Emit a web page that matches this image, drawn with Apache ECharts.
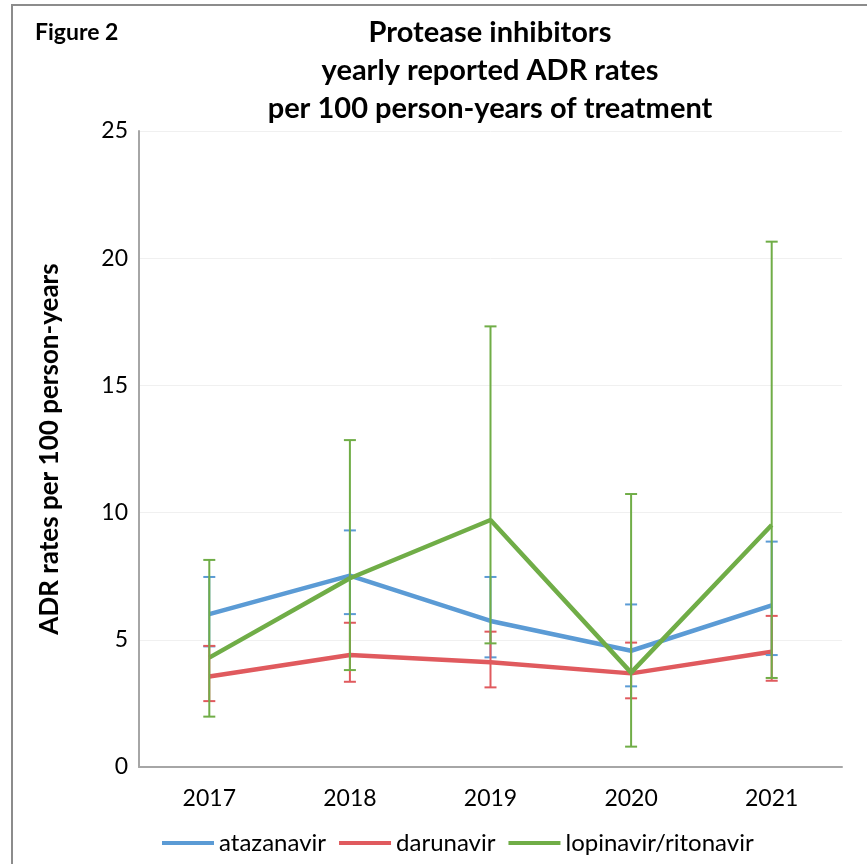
<!DOCTYPE html>
<html>
<head>
<meta charset="utf-8">
<script src="https://cdn.jsdelivr.net/npm/echarts@6/dist/echarts.min.js"></script>
<style>
  html, body { margin: 0; padding: 0; background: #fff; }
  #chart { width: 867px; height: 864px; }
</style>
</head>
<body>
<div id="chart"></div>
<script>
// data
const years = ['2017', '2018', '2019', '2020', '2021'];
const yTicks = [0, 5, 10, 15, 20, 25];

const atazanavir = [6.01, 7.52, 5.74, 4.57, 6.35];
const atazanavirLow = [4.74, 6.01, 4.31, 3.17, 4.40];
const atazanavirHigh = [7.47, 9.30, 7.47, 6.39, 8.86];

const darunavir = [3.56, 4.40, 4.12, 3.68, 4.53];
const darunavirLow = [2.59, 3.35, 3.13, 2.70, 3.39];
const darunavirHigh = [4.76, 5.67, 5.32, 4.89, 5.94];

const lopinavir = [4.30, 7.42, 9.71, 3.71, 9.51];
const lopinavirLow = [1.98, 3.81, 4.86, 0.80, 3.50];
const lopinavirHigh = [8.14, 12.85, 17.32, 10.73, 20.65];

const BLUE = '#5B9BD5';
const RED = '#E05A5E';
const GREEN = '#70AD47';
const FONT = 'Lato, "Open Sans", sans-serif';

const chart = echarts.init(document.getElementById('chart'));

// error bars with caps, drawn by a custom series
function errorBars(color) {
    return function (params, api) {
        const i = api.value(0);
        const lo = api.coord([i, api.value(1)]);
        const hi = api.coord([i, api.value(2)]);
        const w = 6;
        const style = { stroke: color, lineWidth: 2 };
        return {
            type: 'group',
            children: [
                { type: 'line', shape: { x1: lo[0], y1: lo[1], x2: hi[0], y2: hi[1] }, style: style },
                { type: 'line', shape: { x1: lo[0] - w, y1: lo[1], x2: lo[0] + w, y2: lo[1] }, style: style },
                { type: 'line', shape: { x1: hi[0] - w, y1: hi[1], x2: hi[0] + w, y2: hi[1] }, style: style }
            ]
        };
    };
}

function barData(low, high) {
    return years.map((y, i) => [i, low[i], high[i]]);
}

function lineSeries(name, data, color) {
    return {
        name: name,
        type: 'line',
        data: data,
        symbol: 'none',
        lineStyle: { color: color, width: 4.5 },
        itemStyle: { color: color },
        z: 3
    };
}

function barSeries(name, low, high, color) {
    return {
        name: name + ' CI',
        type: 'custom',
        renderItem: errorBars(color),
        data: barData(low, high),
        encode: { x: 0, y: [1, 2] },
        silent: true,
        z: 4
    };
}

const options = {
    animation: false,
    graphic: [
        {
            type: 'rect',
            shape: { x: 12, y: 5, width: 900, height: 900 },
            style: { fill: 'none', stroke: '#8c8c8c', lineWidth: 2 },
            silent: true
        },
        {
            type: 'text',
            x: 35, y: 21,
            style: { text: 'Figure 2', font: 'bold 23px ' + FONT, fill: '#000' }
        },
        {
            type: 'text',
            x: 490, y: 14,
            style: {
                text: 'Protease inhibitors\nyearly reported ADR rates\nper 100 person-years of treatment',
                font: 'bold 29px ' + FONT,
                fill: '#000',
                textAlign: 'center',
                lineHeight: 38
            }
        }
    ],
    grid: {
        left: 139,
        right: 25,
        top: 131,
        bottom: 97
    },
    legend: {
        data: ['atazanavir', 'darunavir', 'lopinavir/ritonavir'],
        left: 157,
        top: 826,
        icon: 'rect',
        itemWidth: 52,
        itemHeight: 4,
        itemGap: 13,
        textStyle: { fontSize: 24, color: '#000', fontFamily: FONT }
    },
    xAxis: {
        type: 'category',
        data: years,
        boundaryGap: true,
        axisLine: { lineStyle: { color: '#a6a6a6', width: 2 } },
        axisTick: { show: false },
        axisLabel: { fontSize: 23, color: '#000', margin: 20, fontFamily: FONT }
    },
    yAxis: {
        type: 'value',
        min: yTicks[0],
        max: yTicks[yTicks.length - 1],
        interval: 5,
        name: 'ADR rates per 100 person-years',
        nameLocation: 'middle',
        nameGap: 76,
        nameTextStyle: { fontSize: 26, fontWeight: 'bold', color: '#000', fontFamily: FONT },
        axisLine: { show: true, lineStyle: { color: '#a6a6a6', width: 2 } },
        axisTick: { show: false },
        axisLabel: { fontSize: 23, color: '#000', margin: 11, fontFamily: FONT },
        splitLine: { lineStyle: { color: '#f0f0f0', width: 1 } }
    },
    series: [
        lineSeries('atazanavir', atazanavir, BLUE),
        lineSeries('darunavir', darunavir, RED),
        lineSeries('lopinavir/ritonavir', lopinavir, GREEN),
        barSeries('atazanavir', atazanavirLow, atazanavirHigh, BLUE),
        barSeries('darunavir', darunavirLow, darunavirHigh, RED),
        barSeries('lopinavir/ritonavir', lopinavirLow, lopinavirHigh, GREEN)
    ]
};

chart.setOption(options);
</script>
</body>
</html>
